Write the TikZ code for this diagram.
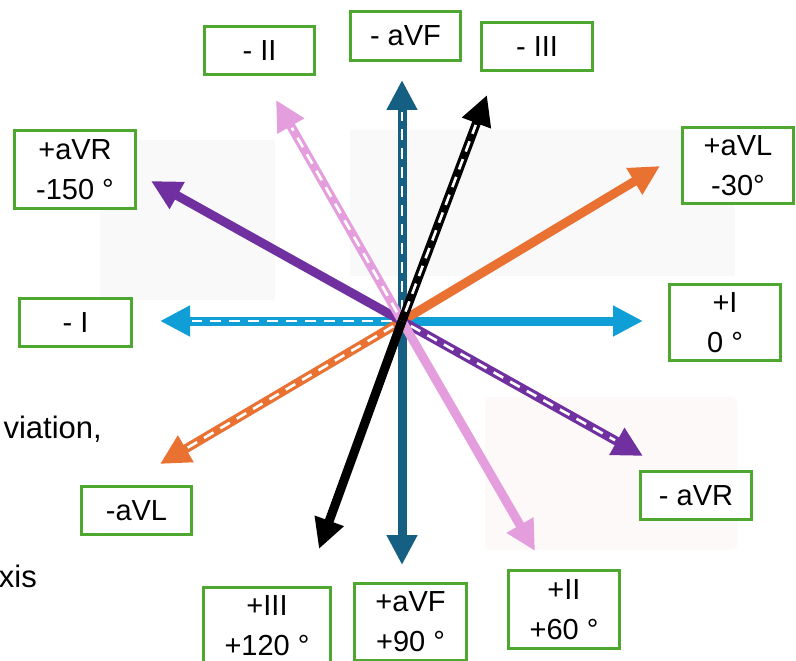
\documentclass[tikz,border=0pt]{standalone}
\usepackage{fontspec}
\setmainfont{Liberation Sans}
\usetikzlibrary{arrows.meta}
\definecolor{cI}{HTML}{0F9ED5}
\definecolor{cF}{HTML}{156082}
\definecolor{cL}{HTML}{E97132}
\definecolor{cR}{HTML}{7030A0}
\definecolor{cII}{HTML}{E49EDD}
\definecolor{cIII}{HTML}{000000}
\definecolor{boxgreen}{HTML}{4EA72E}
\definecolor{wmgray}{HTML}{F9F9F9}
\definecolor{wmpink}{HTML}{FEF9F9}
\begin{document}
\begin{tikzpicture}[x=1pt,y=-1pt,
  lbl/.style={draw=boxgreen, line width=3pt, fill=white, inner sep=0pt, align=center,
              font=\fontsize{29}{40}\selectfont},
  vec/.style={line width=9pt, -{Triangle[length=30pt,width=29pt]}},
  whitedash/.style={draw=white, line width=2.6pt, dash pattern=on 11pt off 8pt,
                    shorten <=10pt, shorten >=32pt},
  bgtext/.style={font=\fontsize{31}{36}\selectfont, inner sep=0pt}]
\useasboundingbox (0,0) rectangle (796,661);
\fill[white] (0,0) rectangle (796,661);
% faint background watermark shapes
\fill[wmgray] (350,130) rectangle (735,276);
\fill[wmgray] (100,140) rectangle (275,300);
\fill[wmpink, rounded corners=6pt] (485,397) rectangle (737,550);
% partial background texts
\node[bgtext, anchor=base east] (t1) at (102,438) {viation,};
\node[bgtext, anchor=base east] (t2) at (37,587) {xis};
% centre and tips
\coordinate (O) at (402,321);
\coordinate (Ip) at (643,321);
\coordinate (Im) at (160,321);
\coordinate (Fp) at (402,565);
\coordinate (Fm) at (402,80);
\coordinate (Lp) at (660,166);
\coordinate (Lm) at (160,464);
\coordinate (Rp) at (151,181);
\coordinate (Rm) at (643,456);
\coordinate (IIp) at (535,551);
\coordinate (IIm) at (276,100);
\coordinate (IIIp) at (319,549);
\coordinate (IIIm) at (487,95);
% aVF
\draw[vec, cF] (O) -- (Fp);
\draw[vec, cF] (O) -- (Fm);
\draw[whitedash] (O) -- (Fm);
% I
\draw[vec, cI] (O) -- (Ip);
\draw[vec, cI] (O) -- (Im);
\draw[whitedash] (O) -- (Im);
% aVL
\draw[vec, cL] (O) -- (Lp);
\draw[vec, cL] (O) -- (Lm);
\draw[whitedash] (O) -- (Lm);
% aVR
\draw[vec, cR] (O) -- (Rp);
\draw[vec, cR] (O) -- (Rm);
\draw[whitedash] (O) -- (Rm);
% II
\draw[vec, cII] (O) -- (IIp);
\draw[vec, cII] (O) -- (IIm);
\draw[whitedash] (O) -- (IIm);
% III
\draw[vec, cIII] (O) -- (IIIp);
\draw[vec, cIII] (O) -- (IIIm);
\draw[whitedash] (O) -- (IIIm);
% labels
\node[lbl, minimum width=110pt, minimum height=48pt] (mII) at (259.5,50.5) {- II};
\node[lbl, minimum width=110pt, minimum height=49pt] (maVF) at (405.5,36) {- aVF};
\node[lbl, minimum width=111pt, minimum height=48pt] (mIII) at (537,46.5) {- III};
\node[lbl, minimum width=121pt, minimum height=78pt] (paVR) at (75,169.5) {+aVR\\-150 °};
\node[lbl, minimum width=111pt, minimum height=76pt] (paVL) at (738,165.5) {+aVL\\-30°};
\node[lbl, minimum width=112pt, minimum height=48pt] (mI) at (75.5,322.5) {- I};
\node[lbl, minimum width=111pt, minimum height=76pt] (pI) at (725,322.5) {+I\\0 °};
\node[lbl, minimum width=110pt, minimum height=48pt] (maVL) at (136.5,510.5) {-aVL};
\node[lbl, minimum width=111pt, minimum height=48pt] (maVR) at (696,495.5) {- aVR};
\node[lbl, minimum width=127pt, minimum height=77pt] (pIII) at (267,626) {+III\\+120 °};
\node[lbl, minimum width=112pt, minimum height=77pt] (paVF) at (410.5,622) {+aVF\\+90 °};
\node[lbl, minimum width=111pt, minimum height=78pt] (pII) at (564,609.5) {+II\\+60 °};
\end{tikzpicture}
\end{document}
